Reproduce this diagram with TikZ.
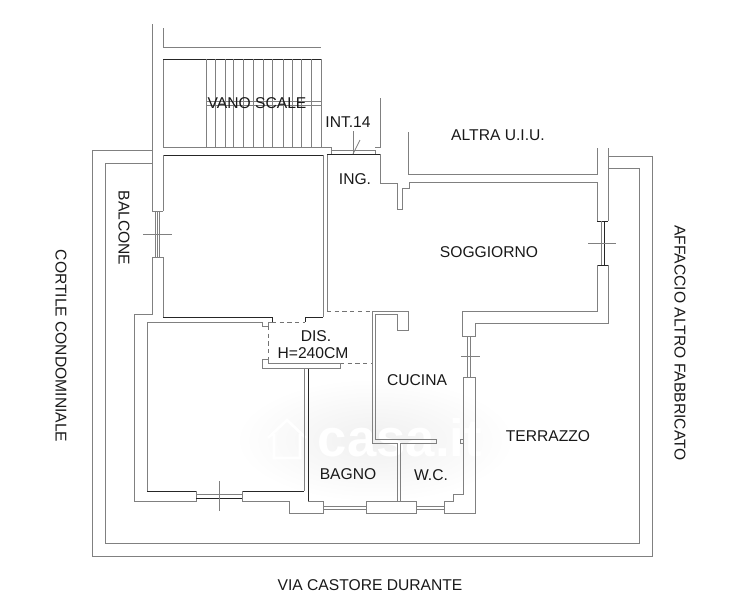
\documentclass[tikz,border=0pt]{standalone}
\usepackage{fontspec}
\setmainfont{Liberation Sans}
\usetikzlibrary{positioning}
\tikzset{
  wall/.style={draw=black!50,line width=0.5pt},
  darkwall/.style={draw=black!85,line width=0.45pt},
  thin wall/.style={draw=black!50,line width=0.4pt},
  hidden/.style={draw=black!55,line width=0.45pt,dash pattern=on 2.4pt off 2pt},
  label/.style={font=\fontsize{8.9}{10}\selectfont,text=black!90,inner sep=0pt},
}
\begin{document}
\begin{tikzpicture}[x=0.02cm,y=-0.02cm]
\useasboundingbox (0,0) rectangle (733,600);
% watermark
\shade[inner color=black!6,outer color=white] (375,440) ellipse (140 and 62);
\node[font=\bfseries\fontsize{30}{30}\selectfont,text=white] (mark) at (400,438) {casa.it};
\draw[white,line width=1.5pt] (268,438) -- (287,420) -- (306,438) (274,434) -- (274,458) -- (300,458) -- (300,434);

% stairs
\draw[wall] (152,24) -- (152,211);
\draw[wall] (163,28) -- (163,47) -- (321,47);
\draw[wall] (163,59) -- (163,147);
\draw[darkwall] (163,59) -- (321,59);
\draw[wall] (321,59) -- (321,147);
\foreach \x in {206,215,225,233,243,253,263,272,283,292,301,311}
  \draw[wall] (\x,59) -- (\x,147);
\draw[wall] (206,101) -- (321,101);
\draw[wall] (206,105) -- (321,105);

% entrance
\draw[wall] (163,147) -- (331,147) -- (331,154);
\draw[darkwall] (163,155) -- (323,155);
\draw[wall] (323,155) -- (323,317);
\draw[wall] (327,154) -- (327,311);
\draw[darkwall] (327,154) -- (380,154);
\draw[wall] (331,150) -- (375,150) -- (375,154);
\draw[wall] (375,147) -- (380,147) -- (380,98);
\draw[thin wall] (353,131) -- (353,154);
\draw[thin wall] (353,154) -- (360,140);
\draw[wall] (380,154) -- (380,183) -- (397,183) -- (397,209) -- (402,209) -- (402,188) -- (409,188) -- (409,182);

% altra u.i.u. and soggiorno
\draw[wall] (408,132) -- (408,174) -- (597,174) -- (597,148);
\draw[wall] (409,182) -- (597,182) -- (597,221);
\draw[wall] (608,148) -- (608,221);
\draw[darkwall] (597,221) -- (608,221);
\draw[wall] (601,221) -- (601,265);
\draw[darkwall] (604,221) -- (604,265);
\draw[darkwall] (597,265) -- (608,265);
\draw[thin wall] (588,243) -- (616,243);
\draw[wall] (597,265) -- (597,311) -- (462,311) -- (462,336) -- (475,336) -- (475,323) -- (608,323) -- (608,265);

% terrace
\draw[wall] (152,150) -- (92,150) -- (92,556) -- (652,556) -- (652,156) -- (608,156);
\draw[wall] (152,163) -- (105,163) -- (105,543) -- (639,543) -- (639,168) -- (608,168);

% balcony window
\draw[wall] (163,155) -- (163,211);
\draw[wall] (152,211) -- (163,211);
\draw[thin wall] (155,211) -- (155,257);
\draw[thin wall] (157,211) -- (157,257);
\draw[thin wall] (159,211) -- (159,257);
\draw[wall] (152,257) -- (163,257);
\draw[thin wall] (143,234) -- (172,234);
\draw[wall] (152,257) -- (152,314) -- (134,314) -- (134,501) -- (196,501) -- (196,491);
\draw[wall] (163,257) -- (163,317);

% bedroom
\draw[darkwall] (163,317) -- (272,317) -- (272,322);
\draw[darkwall] (305,322) -- (305,317) -- (323,317);
\draw[wall] (147,322) -- (262,322) -- (262,326) -- (268,326) -- (268,322) -- (272,322);
\draw[wall] (147,322) -- (147,491);
\draw[darkwall] (147,491) -- (196,491);
\draw[darkwall] (242,491) -- (304,491);
\draw[wall] (196,494) -- (242,494);
\draw[darkwall] (196,498) -- (242,498);
\draw[thin wall] (219,481) -- (219,511);
\draw[wall] (242,491) -- (242,501) -- (289,501) -- (289,513) -- (323,513) -- (323,501) -- (308,501);
\draw[wall] (304,368) -- (304,491);
\draw[darkwall] (308,368) -- (308,501);

% dis.
\draw[hidden] (268,326) -- (268,359);
\draw[hidden] (272,322) -- (305,322);
\draw[hidden] (327,311) -- (372,311);
\draw[hidden] (340,363) -- (372,363);
\draw[wall] (268,359) -- (262,359) -- (262,368) -- (340,368) -- (340,363) -- (268,363) -- (268,359);

% kitchen
\draw[wall] (372,311) -- (372,443) -- (397,443) -- (397,501);
\draw[wall] (375,314) -- (375,439) -- (436,439) -- (436,443) -- (400,443) -- (400,501);
\draw[wall] (372,311) -- (408,311) -- (408,330) -- (397,330) -- (397,314) -- (375,314);
\draw[wall] (467,336) -- (467,377);
\draw[wall] (470,336) -- (470,377);
\draw[thin wall] (461,356) -- (480,356);
\draw[wall] (463,377) -- (475,377) -- (475,513) -- (444,513) -- (444,501) -- (453,501) -- (453,494) -- (463,494) -- (463,377);
\draw[thin wall] (463,439) -- (460,439) -- (460,443) -- (463,443);

% bathroom windows
\draw[wall] (323,506) -- (366,506);
\draw[wall] (323,509) -- (366,509);
\draw[wall] (366,501) rectangle (416,513);
\draw[wall] (416,506) -- (444,506);
\draw[wall] (416,509) -- (444,509);

% labels
\node[label] (scale) at (257,103) {VANO SCALE};
\node[label] (interno) at (348,122) {INT.14};
\node[label] (ing) at (355,179) {ING.};
\node[label] (altra) at (498,135) {ALTRA U.I.U.};
\node[label] (soggiorno) at (489,252) {SOGGIORNO};
\node[label] (dis) at (316,336) {DIS.};
\node[label] (altezza) at (313,353) {H=240CM};
\node[label] (cucina) at (417,380) {CUCINA};
\node[label] (bagno) at (348,474) {BAGNO};
\node[label] (wc) at (431,475) {W.C.};
\node[label] (terrazzo) at (548,436) {TERRAZZO};
\node[label,rotate=-90] (balcone) at (124,228) {BALCONE};
\node[label,rotate=-90] (cortile) at (61,346) {CORTILE CONDOMINIALE};
\node[label,rotate=-90] (affaccio) at (680,343) {AFFACCIO ALTRO FABBRICATO};
\node[label] (via) at (370,585) {VIA CASTORE DURANTE};
\end{tikzpicture}
\end{document}
